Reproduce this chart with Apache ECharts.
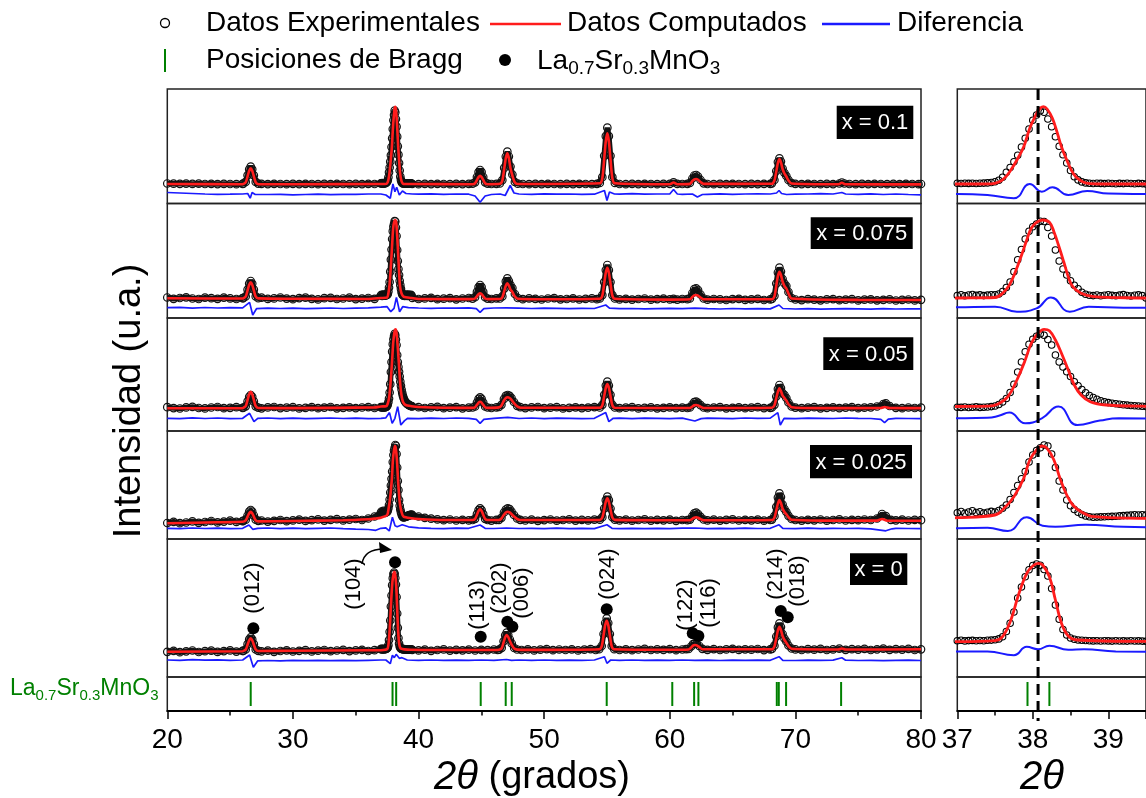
<!DOCTYPE html>
<html><head><meta charset="utf-8">
<script src="https://cdn.jsdelivr.net/npm/echarts@6.0.0/dist/echarts.min.js"></script>
<style>html,body{margin:0;padding:0;background:#fff}#c{width:1146px;height:798px}</style>
</head><body><div id="c"></div><script>
// ---------------- DATA (2θ in degrees, intensity in arbitrary counts) ----------------
const samples = ['x = 0.1', 'x = 0.075', 'x = 0.05', 'x = 0.025', 'x = 0'];
const zoomStart = 37.0, zoomStep = 0.05;   // grid of the detailed observed points around (104)

const obsMain01 = [[20,200],[20.5,198],[21,197],[21.5,199],[22,196],[22.5,198],[23,195],[23.5,197],[24,194],[24.5,196],[25,195],[25.5,193],[26,196],[26.04,199],[26.24,216],[26.39,282],[26.52,342],[26.64,368],[26.76,342],[26.89,282],[27.04,216],[27.24,199],[27.5,196],[28,194],[28.5,197],[29,195],[29.5,193],[30,196],[30.5,194],[31,197],[31.5,195],[32,193],[32.5,196],[33,194],[33.5,197],[34,195],[34.5,193],[35,196],[35.5,194],[36,197],[36.5,195],[39.5,195],[40,193],[40.5,196],[41,194],[41.5,197],[42,195],[42.5,193],[43,196],[43.5,194],[44,196],[44.3,198],[44.5,212],[44.65,265],[44.78,314],[44.9,335],[45.02,314],[45.15,265],[45.3,212],[45.5,198],[45.8,195],[46.2,196],[46.47,201],[46.67,234],[46.82,356],[46.95,470],[47.07,518],[47.19,470],[47.32,370],[47.47,290],[47.67,215],[47.9,198],[48.3,195],[48.8,193],[49.3,196],[49.8,194],[50.3,197],[50.8,195],[51.3,193],[51.8,196],[52.3,194],[52.8,197],[53.3,195],[53.8,193],[54.2,196],[54.43,206],[54.63,263],[54.78,477],[54.91,673],[55.03,758],[55.15,673],[55.28,477],[55.43,263],[55.63,206],[56,195],[56.5,193],[57,196],[57.5,194],[58,197],[58.5,195],[59,193],[59.5,196],[60,197],[60.3,212],[60.6,196],[61,195],[61.4,197],[61.6,205],[61.8,250],[61.95,280],[62.1,285],[62.25,270],[62.45,235],[62.7,202],[63,195],[63.5,193],[64,196],[64.5,194],[65,197],[65.5,195],[66,193],[66.5,196],[67,194],[67.5,197],[68,197],[68.13,202],[68.33,235],[68.48,325],[68.61,415],[68.73,452],[68.85,420],[68.98,350],[69.13,305],[69.28,275],[69.45,235],[69.7,205],[70,196],[70.5,194],[71,197],[71.5,195],[72,193],[72.5,196],[73,194],[73.5,200],[73.7,210],[73.9,200],[74.3,195],[74.8,193],[75.3,196],[75.8,194],[76.3,197],[76.8,195],[77.3,193],[77.8,196],[78.3,194],[78.8,197],[79.3,195],[79.8,193],[80,195]];
const obsZoom01 = [202,200,203,201,202,200,203,204,206,210,218,232,262,312,360,418,482,565,652,745,832,885,928,912,845,768,668,572,488,405,330,268,236,216,206,202,200,203,201,199,202,200,198,201,199,202,200,198,201,199];
const calc01 = [[20,195],[26,193],[26.04,194],[26.24,211],[26.39,272],[26.52,328],[26.64,352],[26.76,328],[26.89,272],[27.04,211],[27.24,194],[30,193],[37,195],[37.45,197],[37.55,215],[37.62,250],[37.69,312],[37.79,435],[37.88,568],[37.96,752],[38.03,868],[38.09,945],[38.14,968],[38.19,945],[38.26,852],[38.32,718],[38.38,568],[38.45,435],[38.51,335],[38.57,268],[38.66,218],[38.76,198],[38.9,195],[39.45,195],[44.3,193],[44.5,202],[44.65,235],[44.78,265],[44.9,278],[45.02,265],[45.15,235],[45.3,202],[45.5,193],[46.47,197],[46.67,229],[46.82,347],[46.95,455],[47.07,502],[47.19,455],[47.32,352],[47.47,280],[47.67,210],[47.9,195],[54.43,202],[54.63,253],[54.78,447],[54.91,625],[55.03,702],[55.15,625],[55.28,447],[55.43,253],[55.63,202],[60,192],[60.3,210],[60.6,192],[61.6,196],[61.8,225],[61.95,242],[62.1,245],[62.25,238],[62.45,215],[62.7,196],[68.13,197],[68.33,230],[68.48,318],[68.61,408],[68.73,445],[68.85,412],[68.98,345],[69.13,300],[69.28,270],[69.45,230],[69.7,200],[73.4,192],[73.7,207],[74,192],[80,191]];
const diff01 = [[20,15],[21,10],[22,5],[23,0],[24,-3],[25,-2],[26,0],[26.4,5],[26.6,-42],[26.75,15],[27,-5],[28,-5],[29,-3],[30,-8],[31,-5],[32,-2],[33,-6],[34,-4],[35,-3],[36,0],[37,0],[37.4,-10],[37.75,-43],[37.96,100],[38.12,23],[38.26,67],[38.47,-10],[38.72,30],[39,5],[39.5,0],[40,-2],[41,2],[42,-3],[43,0],[44,-2],[44.5,-20],[44.9,-82],[45.3,-20],[45.8,-5],[46.5,0],[46.9,-15],[47.3,85],[47.6,10],[48,0],[49,-3],[50,2],[51,-2],[52,0],[53,-4],[54,-2],[54.8,35],[55,-65],[55.2,20],[55.6,0],[56,-2],[57,3],[58,-2],[59,0],[60,0],[60.3,45],[60.6,0],[61,-3],[61.8,0],[62.2,-30],[62.6,-5],[63,-3],[64,2],[65,-3],[66,0],[67,2],[68,0],[68.5,10],[68.7,35],[68.9,5],[69.3,-5],[70,-2],[71,0],[72,3],[73,0],[73.7,15],[74,0],[75,-3],[76,2],[77,-5],[78,0],[79,-5],[80,-8]];

const obsMain02 = [[20,205],[20.5,192],[21,200],[21.5,207],[22,195],[22.5,190],[23,203],[23.5,198],[24,192],[24.5,204],[25,196],[25.5,190],[26,198],[26.04,198],[26.24,216],[26.39,283],[26.52,344],[26.64,370],[26.76,344],[26.89,283],[27.04,216],[27.24,198],[27.5,203],[28,191],[28.5,196],[29,205],[29.5,194],[30,188],[30.5,199],[31,203],[31.5,192],[32,186],[32.5,198],[33,201],[33.5,190],[34,195],[34.5,203],[35,189],[35.5,194],[36,200],[36.5,192],[39.5,201],[40,190],[40.5,196],[41,202],[41.5,188],[42,193],[42.5,199],[43,187],[43.5,195],[44,200],[44.3,194],[44.5,208],[44.65,261],[44.78,309],[44.9,330],[45.02,309],[45.15,261],[45.3,208],[45.5,194],[45.8,190],[46.2,197],[46.47,195],[46.67,216],[46.82,294],[46.95,366],[47.07,397],[47.19,370],[47.32,330],[47.47,300],[47.67,240],[47.9,200],[48.3,188],[48.8,196],[49.3,192],[49.8,185],[50.3,195],[50.8,199],[51.3,187],[51.8,190],[52.3,197],[52.8,185],[53.3,191],[53.8,196],[54.2,188],[54.43,195],[54.63,229],[54.78,359],[54.91,479],[55.03,530],[55.15,479],[55.28,359],[55.43,229],[55.63,195],[56,186],[56.5,192],[57,184],[57.5,190],[58,195],[58.5,183],[59,189],[59.5,194],[60,186],[60.3,192],[60.6,184],[61,190],[61.4,188],[61.6,196],[61.8,250],[61.95,290],[62.1,297],[62.25,280],[62.45,235],[62.7,195],[63,183],[63.5,190],[64,186],[64.5,180],[65,189],[65.5,192],[66,181],[66.5,187],[67,191],[67.5,180],[68,186],[68.13,190],[68.33,222],[68.48,344],[68.61,455],[68.73,503],[68.85,465],[68.98,390],[69.13,345],[69.28,320],[69.45,260],[69.7,200],[70,185],[70.5,179],[71,188],[71.5,184],[72,177],[72.5,186],[73,189],[73.5,178],[74,184],[74.5,188],[75,176],[75.5,183],[76,187],[76.5,177],[77,182],[77.5,186],[78,175],[78.5,181],[79,185],[79.5,176],[80,182]];
const obsZoom02 = [225,232,222,230,235,226,231,224,229,233,232,240,265,305,360,463,583,685,790,868,913,940,968,965,905,820,680,570,490,430,372,328,292,258,238,228,224,230,222,228,233,226,222,229,234,225,220,227,231,224];
const calc02 = [[20,197],[26,195],[26.04,196],[26.24,214],[26.39,276],[26.52,333],[26.64,357],[26.76,333],[26.89,276],[27.04,214],[27.24,196],[30,193],[36,190],[37,200],[37.5,205],[37.6,247],[37.69,330],[37.77,463],[37.86,647],[37.92,780],[37.98,897],[38.05,957],[38.13,980],[38.22,957],[38.28,863],[38.34,730],[38.41,563],[38.47,413],[38.53,313],[38.64,247],[38.81,213],[39.45,200],[40,190],[44.3,189],[44.5,195],[44.65,218],[44.78,238],[44.9,247],[45.02,238],[45.15,218],[45.3,195],[45.5,189],[46.47,190],[46.67,207],[46.82,268],[46.95,323],[47.07,347],[47.19,325],[47.32,285],[47.47,260],[47.67,215],[47.9,192],[50,187],[54.43,192],[54.63,224],[54.78,345],[54.91,456],[55.03,503],[55.15,456],[55.28,345],[55.43,224],[55.63,192],[60,184],[61.6,187],[61.8,210],[61.95,226],[62.1,230],[62.25,224],[62.45,205],[62.7,187],[68.13,188],[68.33,216],[68.48,323],[68.61,421],[68.73,463],[68.85,430],[68.98,365],[69.13,320],[69.28,295],[69.45,245],[69.7,195],[75,181],[80,180]];
const diff02 = [[20,0],[21,3],[22,-4],[23,2],[24,-3],[25,1],[26,-2],[26.55,53],[26.8,-73],[27.1,-10],[28,-5],[29,-8],[30,-4],[31,-10],[32,-6],[33,-3],[34,-8],[35,-5],[36,-2],[37,5],[37.5,10],[37.79,-40],[38.05,-7],[38.24,103],[38.49,-40],[38.74,10],[39.2,0],[40,-3],[41,-6],[42,-3],[43,-5],[44,-2],[44.6,-10],[44.9,-47],[45.2,-10],[46,-3],[47,-2],[48,-5],[49,-8],[50,-4],[51,-7],[52,-10],[53,-6],[54,-8],[54.9,27],[55.2,-5],[56,-10],[57,-8],[58,-12],[59,-9],[60,-6],[61,-9],[62,-4],[63,-10],[64,-13],[65,-8],[66,-11],[67,-9],[68,-12],[68.7,27],[69,-8],[70,-13],[71,-10],[72,-14],[73,-11],[74,-9],[75,-12],[76,-15],[77,-10],[78,-13],[79,-11],[80,-12]];

const obsMain03 = [[20,238],[20.5,229],[21,225],[21.5,236],[22,241],[22.5,230],[23,226],[23.5,235],[24,240],[24.5,228],[25,232],[25.5,238],[26,230],[26.04,234],[26.24,247],[26.39,296],[26.52,341],[26.64,360],[26.76,341],[26.89,296],[27.04,247],[27.24,234],[27.5,227],[28,236],[28.5,240],[29,229],[29.5,233],[30,238],[30.5,226],[31,231],[31.5,239],[32,228],[32.5,234],[33,240],[33.5,227],[34,232],[34.5,237],[35,229],[35.5,235],[36,239],[36.5,230],[39.5,245],[40,238],[40.5,230],[41,236],[41.5,241],[42,228],[42.5,234],[43,239],[43.5,227],[44,233],[44.3,235],[44.5,245],[44.65,285],[44.78,321],[44.9,337],[45.02,321],[45.15,285],[45.3,245],[45.5,235],[45.8,230],[46.2,236],[46.4,240],[46.6,262],[46.8,320],[46.95,352],[47.1,360],[47.25,352],[47.4,330],[47.6,290],[47.85,252],[48.1,238],[48.5,229],[49,236],[49.5,240],[50,228],[50.5,233],[51,238],[51.5,226],[52,231],[52.5,237],[53,229],[53.5,234],[54,239],[54.43,235],[54.63,262],[54.78,362],[54.91,454],[55.03,493],[55.15,454],[55.28,362],[55.43,262],[55.63,235],[56,228],[56.5,233],[57,238],[57.5,226],[58,231],[58.5,236],[59,227],[59.5,232],[60,237],[60.5,229],[61,234],[61.4,230],[61.6,236],[61.8,265],[61.95,288],[62.1,293],[62.25,282],[62.45,258],[62.7,235],[63,228],[63.5,233],[64,238],[64.5,227],[65,232],[65.5,237],[66,228],[66.5,233],[67,238],[67.5,229],[68,232],[68.13,236],[68.33,262],[68.48,345],[68.61,420],[68.73,460],[68.85,430],[68.98,380],[69.13,360],[69.28,330],[69.45,285],[69.7,245],[70,234],[70.5,228],[71,233],[71.5,238],[72,227],[72.5,232],[73,237],[73.5,229],[74,234],[74.5,239],[75,228],[75.5,233],[76,237],[76.5,245],[77,270],[77.2,277],[77.5,250],[78,232],[78.5,228],[79,235],[79.5,230],[80,233]];
const obsZoom03 = [238,236,240,235,237,241,236,238,240,244,250,265,290,325,385,468,590,690,793,868,917,948,972,958,915,860,760,690,640,592,545,493,452,415,382,355,335,317,302,292,284,278,272,267,263,259,255,252,250,248];
const calc03 = [[20,227],[26,228],[26.04,230],[26.24,248],[26.39,311],[26.52,368],[26.64,393],[26.76,368],[26.89,311],[27.04,248],[27.24,230],[30,229],[36.5,236],[37,245],[37.41,248],[37.54,270],[37.67,343],[37.79,510],[37.9,710],[37.98,877],[38.07,977],[38.15,1017],[38.22,1003],[38.3,910],[38.38,777],[38.47,610],[38.55,460],[38.64,360],[38.76,293],[38.97,260],[39.45,248],[40,240],[42,232],[44.3,231],[44.5,237],[44.65,262],[44.78,284],[44.9,293],[45.02,284],[45.15,262],[45.3,237],[45.5,231],[46.4,236],[46.6,255],[46.8,305],[46.95,330],[47.1,337],[47.25,330],[47.4,312],[47.6,278],[47.85,246],[48.1,234],[54.43,233],[54.63,258],[54.78,349],[54.91,434],[55.03,470],[55.15,434],[55.28,349],[55.43,258],[55.63,233],[61.6,230],[61.8,245],[61.95,257],[62.1,260],[62.25,255],[62.45,242],[62.7,230],[68.13,233],[68.33,257],[68.48,330],[68.61,393],[68.73,427],[68.85,400],[68.98,355],[69.13,330],[69.28,305],[69.45,268],[69.7,238],[72,229],[76.8,230],[77.1,240],[77.5,230],[80,229]];
const diff03 = [[20,0],[21,-3],[22,4],[23,-2],[24,3],[25,-4],[26,0],[26.55,50],[26.9,-33],[27.2,0],[28,3],[29,-3],[30,2],[31,-4],[32,0],[33,3],[34,-2],[35,2],[36,-3],[37,0],[37.4,5],[37.55,25],[37.69,57],[37.9,-50],[38.12,0],[38.34,117],[38.59,-67],[38.89,-23],[39.14,0],[40,-3],[41,2],[42,-2],[43,3],[44,0],[44.6,-10],[44.9,-50],[45.2,-10],[46,0],[47.1,10],[48,-2],[49,3],[50,-3],[51,2],[52,0],[53,-4],[54,0],[54.9,57],[55.15,-33],[55.5,0],[56,2],[57,-3],[58,2],[59,0],[60,-3],[61,2],[62,-27],[62.5,-3],[63,2],[64,0],[65,-3],[66,3],[67,0],[68,2],[68.6,57],[68.8,-67],[69.1,0],[70,-3],[71,2],[72,0],[73,-2],[74,3],[75,0],[76,-2],[76.8,-10],[77.1,-43],[77.4,-8],[78,0],[79,-2],[80,-3]];

const obsMain04 = [[20,160],[20.5,172],[21,158],[21.5,165],[22,176],[22.5,162],[23,170],[23.5,180],[24,166],[24.5,174],[25,184],[25.5,171],[26,178],[26.04,182],[26.24,193],[26.39,235],[26.52,274],[26.64,290],[26.76,274],[26.89,235],[27.04,193],[27.24,182],[27.5,185],[28,174],[28.5,182],[29,190],[29.5,178],[30,186],[30.5,194],[31,181],[31.5,188],[32,196],[32.5,184],[33,191],[33.5,198],[34,186],[34.5,194],[35,200],[35.5,190],[36,205],[36.5,225],[39.5,240],[40,225],[40.5,212],[41,203],[41.5,196],[42,188],[42.5,195],[43,185],[43.5,192],[44,186],[44.3,190],[44.5,202],[44.65,248],[44.78,289],[44.9,307],[45.02,289],[45.15,248],[45.3,202],[45.5,190],[45.8,184],[46.2,191],[46.4,192],[46.6,212],[46.8,265],[46.95,295],[47.1,307],[47.25,298],[47.4,275],[47.6,240],[47.85,205],[48.1,192],[48.5,185],[49,193],[49.5,182],[50,189],[50.5,195],[51,183],[51.5,190],[52,196],[52.5,184],[53,191],[53.5,186],[54,193],[54.43,193],[54.63,218],[54.78,305],[54.91,388],[55.03,423],[55.15,388],[55.28,305],[55.43,218],[55.63,193],[56,186],[56.5,194],[57,183],[57.5,190],[58,196],[58.5,184],[59,191],[59.5,187],[60,194],[60.5,182],[61,190],[61.4,188],[61.6,194],[61.8,228],[61.95,256],[62.1,263],[62.25,250],[62.45,222],[62.7,195],[63,186],[63.5,193],[64,184],[64.5,191],[65,196],[65.5,185],[66,192],[66.5,187],[67,194],[67.5,183],[68,190],[68.13,194],[68.33,228],[68.48,322],[68.61,414],[68.73,457],[68.85,420],[68.98,345],[69.13,300],[69.28,270],[69.45,232],[69.7,200],[70,190],[70.5,184],[71,192],[71.5,187],[72,195],[72.5,183],[73,190],[73.5,196],[74,185],[74.5,192],[75,188],[75.5,195],[76,190],[76.5,205],[76.9,250],[77.2,228],[77.6,192],[78,187],[78.5,194],[79,185],[79.5,191],[80,188]];
const obsZoom04 = [262,275,258,270,282,265,272,260,268,276,270,285,307,340,395,465,535,602,675,770,840,885,912,940,930,850,715,580,490,390,332,295,268,245,230,222,217,219,221,222,225,226,228,231,234,236,239,242,240,243];
const calc04 = [[20,157],[24,167],[26,172],[26.04,176],[26.24,186],[26.39,224],[26.52,258],[26.64,273],[26.76,258],[26.89,224],[27.04,186],[27.24,176],[30,180],[34,188],[36,198],[36.5,204],[37,213],[37.5,240],[37.62,307],[37.75,423],[37.88,607],[37.96,790],[38.05,890],[38.12,930],[38.19,907],[38.28,790],[38.36,607],[38.45,440],[38.53,340],[38.64,273],[38.81,223],[39.45,207],[40,200],[42,190],[44.3,190],[44.5,201],[44.65,243],[44.78,281],[44.9,297],[45.02,281],[45.15,243],[45.3,201],[45.5,190],[46.4,190],[46.6,205],[46.8,243],[46.95,265],[47.1,273],[47.25,266],[47.4,250],[47.6,225],[47.85,200],[48.1,190],[54.43,191],[54.63,215],[54.78,296],[54.91,374],[55.03,407],[55.15,374],[55.28,296],[55.43,215],[55.63,191],[61.6,187],[61.8,202],[61.95,214],[62.1,217],[62.25,212],[62.45,199],[62.7,187],[68.13,190],[68.33,213],[68.48,285],[68.61,355],[68.73,390],[68.85,360],[68.98,305],[69.13,270],[69.28,248],[69.45,218],[69.7,192],[72,184],[76.5,184],[76.9,200],[77.3,184],[80,183]];
const diff04 = [[20,0],[21,-3],[22,3],[23,-2],[24,2],[25,-4],[26,0],[26.5,33],[26.8,-10],[27.2,0],[28,3],[29,-3],[30,2],[31,-4],[32,0],[33,3],[34,-3],[35,-8],[36,-12],[36.6,-20],[37,0],[37.4,5],[37.67,-27],[37.92,110],[38.13,25],[38.3,15],[38.7,35],[39.2,15],[40,5],[41,0],[42,-3],[43,2],[44,0],[44.9,33],[45.3,0],[46,-2],[47,3],[48,-2],[49,0],[50,-3],[51,2],[52,-4],[53,0],[54,-3],[55,35],[55.4,0],[56,-3],[57,0],[58,-4],[59,0],[60,-3],[61,2],[62,3],[63,-3],[64,0],[65,-4],[66,2],[67,-2],[68,0],[68.7,35],[69,0],[70,-3],[71,2],[72,-3],[73,0],[74,-2],[75,0],[76,-5],[77.2,-25],[77.7,-5],[78,0],[79,-2],[80,-3]];

const obsMain05 = [[20,252],[20.5,262],[21,248],[21.5,257],[22,265],[22.5,250],[23,258],[23.5,263],[24,251],[24.5,259],[25,266],[25.5,254],[26,261],[26.04,261],[26.24,275],[26.39,328],[26.52,376],[26.64,397],[26.76,376],[26.89,328],[27.04,275],[27.24,261],[27.5,256],[28,264],[28.5,252],[29,260],[29.5,267],[30,255],[30.5,262],[31,268],[31.5,256],[32,263],[32.5,270],[33,258],[33.5,265],[34,271],[34.5,259],[35,266],[35.5,272],[36,260],[36.5,268],[39.5,272],[40,266],[40.5,274],[41,262],[41.5,270],[42,276],[42.5,264],[43,271],[43.5,267],[44,274],[44.5,265],[45,272],[45.5,268],[46,275],[46.3,270],[46.42,274],[46.62,292],[46.77,357],[46.9,417],[47.02,443],[47.14,420],[47.27,375],[47.42,335],[47.62,290],[47.85,275],[48.2,270],[48.7,277],[49.2,266],[49.7,273],[50.2,279],[50.7,268],[51.2,275],[51.7,270],[52.2,277],[52.7,266],[53.2,273],[53.7,279],[54.1,270],[54.38,278],[54.58,310],[54.73,430],[54.86,540],[54.98,587],[55.1,540],[55.23,430],[55.38,310],[55.58,278],[56,270],[56.5,277],[57,268],[57.5,275],[58,281],[58.5,270],[59,276],[59.5,272],[60,279],[60.5,268],[61,275],[61.3,278],[61.5,280],[61.7,305],[61.85,328],[62,337],[62.15,332],[62.35,310],[62.6,282],[63,272],[63.5,279],[64,270],[64.5,276],[65,282],[65.5,271],[66,277],[66.5,273],[67,280],[67.5,269],[68,276],[68.13,281],[68.33,313],[68.48,405],[68.61,496],[68.73,537],[68.85,500],[68.98,430],[69.13,385],[69.28,355],[69.45,315],[69.7,285],[70,276],[70.5,270],[71,278],[71.5,273],[72,281],[72.5,270],[73,276],[73.5,283],[74,272],[74.5,278],[75,274],[75.5,281],[76,270],[76.5,277],[77,283],[77.5,272],[78,278],[78.5,274],[79,281],[79.5,270],[80,277]];
const obsZoom05 = [278,282,276,279,281,277,280,278,282,284,288,296,318,370,452,565,705,815,918,988,1030,1045,1032,990,925,800,635,492,390,335,305,292,285,282,280,278,276,278,275,277,276,274,277,275,276,274,277,275,276,274];
const calc05 = [[20,253],[26,258],[26.04,260],[26.24,274],[26.39,323],[26.52,368],[26.64,387],[26.76,368],[26.89,323],[27.04,274],[27.24,260],[30,262],[36,267],[37,268],[37.5,278],[37.6,318],[37.71,485],[37.81,735],[37.92,952],[38,1025],[38.07,1052],[38.13,1035],[38.22,918],[38.3,685],[38.38,452],[38.47,325],[38.59,285],[39.39,272],[42,270],[46,270],[46.42,273],[46.62,288],[46.77,345],[46.9,398],[47.02,420],[47.14,400],[47.27,360],[47.42,322],[47.62,285],[47.85,274],[50,271],[54.38,277],[54.58,306],[54.73,417],[54.86,519],[54.98,563],[55.1,519],[55.23,417],[55.38,306],[55.58,277],[60,272],[61.5,275],[61.7,295],[61.85,313],[62,320],[62.15,316],[62.35,299],[62.6,277],[68.13,278],[68.33,306],[68.48,388],[68.61,467],[68.73,503],[68.85,470],[68.98,410],[69.13,370],[69.28,342],[69.45,308],[69.7,282],[73.4,275],[73.7,285],[74,275],[80,277]];
const diff05 = [[20,0],[21,-3],[22,3],[23,-2],[24,2],[25,-4],[26,0],[26.55,50],[26.85,-73],[27.2,-8],[28,-5],[29,-8],[30,-4],[31,-7],[32,-3],[33,-6],[34,-4],[35,-7],[36,-3],[37,0],[37.4,0],[37.75,-37],[37.92,47],[38.07,23],[38.22,57],[38.47,17],[38.68,23],[39.1,0],[40,-3],[41,0],[42,-4],[43,-1],[44,-3],[45,0],[46,-4],[47,5],[47.4,-3],[48,0],[49,-3],[50,0],[51,-4],[52,-1],[53,-3],[54,0],[54.8,33],[55,-33],[55.3,0],[56,-3],[57,0],[58,-4],[59,-1],[60,-3],[61,0],[62,-4],[63,-2],[64,-5],[65,-2],[66,-4],[67,-1],[68,-3],[68.7,33],[69,-3],[70,-5],[71,-2],[72,-4],[73,-1],[73.7,23],[74,-2],[75,-5],[76,-3],[77,-6],[78,-4],[79,-2],[80,-5]];

const braggPositions = [26.64, 37.93, 38.22, 44.95, 46.94, 47.42, 54.98, 60.2, 61.94, 62.28, 68.52, 68.68, 69.26, 73.64];
const hklLabels = ['(012)', '(104)', '(113)', '(202)', '(006)', '(024)', '(122)', '(116)', '(214)', '(018)'];
const hklMarks = [[26.85,487],[38.13,1147],[44.95,403],[47.07,553],[47.47,503],[54.98,677],[61.83,437],[62.28,410],[68.84,660],[69.39,597]];
const refPeak = 38.07;  // dashed reference line (x = 0 peak)
const xTicksMain = [20, 80, 10];
const xTicksZoom = [37, 39.5, 1];

// ---------------- LAYOUT / STYLE ----------------
const FONT = 'Liberation Sans, Arial, Helvetica, sans-serif';
const rowsY = [[89,203.5],[203.5,318],[318,431],[431,539],[539,677]];
const braggY = [677, 711];
const mainX = [167.3, 921];
const zoomX = [957.3, 1154.8];
const countsPerPx = 10;
const zoomShift = [0, 0, 0, 0, 85];
const diffOffset = [95, 103, 127, 107, 170];
const labelBoxes = [[836.7,105.7,76.6,33.3],[810.7,217.3,102,31.7],[823.3,337.3,90,32.7],[810,445,102,33.3],[850,553.3,57.3,31.7]];
const hklLabelPos = [[253,588],[354,584],[477.5,605],[500,588],[522,593],[607.5,574],[686,605],[709,603],[776,574],[798,581]];

function merge(main, zoomVals) {
  const pts = main.slice();
  zoomVals.forEach((v, i) => pts.push([+(zoomStart + i * zoomStep).toFixed(2), v]));
  return pts.sort((a, b) => a[0] - b[0]);
}
const sortPts = a => a.slice().sort((p, q) => p[0] - q[0]);
const obsSets = [merge(obsMain01, obsZoom01), merge(obsMain02, obsZoom02), merge(obsMain03, obsZoom03), merge(obsMain04, obsZoom04), merge(obsMain05, obsZoom05)];
const calcSets = [calc01, calc02, calc03, calc04, calc05].map(sortPts);
const diffSets = [diff01, diff02, diff03, diff04, diff05].map(sortPts);

const grids = [], xAxes = [], yAxes = [], series = [];
const gridBase = {show: true, borderColor: '#222', borderWidth: 1.5, backgroundColor: 'rgba(0,0,0,0)', containLabel: false};
const hiddenX = (gi, r) => ({gridIndex: gi, type: 'value', min: r[0], max: r[1], show: false});
const openCircle = {color: 'rgba(255,255,255,0)', borderColor: '#111', borderWidth: 1.2, opacity: 1};

rowsY.forEach(([t, b], i) => {
  const h = b - t;
  grids.push(Object.assign({left: mainX[0], top: t, width: mainX[1] - mainX[0], height: h}, gridBase));
  grids.push(Object.assign({left: zoomX[0], top: t, width: zoomX[1] - zoomX[0], height: h}, gridBase));
  xAxes.push(hiddenX(2 * i, xTicksMain));
  xAxes.push(hiddenX(2 * i + 1, xTicksZoom));
  yAxes.push({gridIndex: 2 * i, type: 'value', min: 0, max: h * countsPerPx, show: false});
  yAxes.push({gridIndex: 2 * i + 1, type: 'value', min: -zoomShift[i], max: h * countsPerPx - zoomShift[i], show: false});
  const diffData = diffSets[i].map(([x, v]) => [x, v + diffOffset[i]]);
  // main panel
  series.push({type: 'line', name: 'obs' + i, xAxisIndex: 2 * i, yAxisIndex: 2 * i, data: obsSets[i], symbol: 'circle', symbolSize: 7.5,
    itemStyle: openCircle, lineStyle: {color: '#141414', width: 5.5}, z: 2, silent: true, animation: false});
  series.push({type: 'line', name: 'calc' + i, xAxisIndex: 2 * i, yAxisIndex: 2 * i, data: calcSets[i], smooth: 0.25, showSymbol: false,
    lineStyle: {color: '#ff1c1c', width: 2.6}, z: 3, silent: true, animation: false});
  series.push({type: 'line', name: 'diff' + i, xAxisIndex: 2 * i, yAxisIndex: 2 * i, data: diffData, showSymbol: false,
    lineStyle: {color: '#1a1aff', width: 1.7}, z: 3, silent: true, animation: false});
  // zoom panel
  series.push({type: 'scatter', name: 'obsZ' + i, xAxisIndex: 2 * i + 1, yAxisIndex: 2 * i + 1, data: obsSets[i], symbol: 'circle', symbolSize: 6.5,
    itemStyle: {color: 'rgba(255,255,255,0)', borderColor: '#000', borderWidth: 1.1, opacity: 1}, clip: true, z: 2, silent: true, animation: false});
  series.push({type: 'line', name: 'calcZ' + i, xAxisIndex: 2 * i + 1, yAxisIndex: 2 * i + 1, data: calcSets[i], smooth: 0.4, showSymbol: false,
    lineStyle: {color: '#ff1c1c', width: 2.8}, z: 3, silent: true, animation: false});
  series.push({type: 'line', name: 'diffZ' + i, xAxisIndex: 2 * i + 1, yAxisIndex: 2 * i + 1, data: diffData, smooth: 0.5, showSymbol: false,
    lineStyle: {color: '#1a1aff', width: 2}, z: 3, silent: true, animation: false});
});

// Bragg panels
const bh = braggY[1] - braggY[0];
grids.push(Object.assign({left: mainX[0], top: braggY[0], width: mainX[1] - mainX[0], height: bh}, gridBase));
grids.push(Object.assign({left: zoomX[0], top: braggY[0], width: zoomX[1] - zoomX[0], height: bh}, gridBase));
const bottomAxis = (gi, r) => ({
  gridIndex: gi, type: 'value', min: r[0], max: r[1], interval: r[2],
  axisLine: {show: true, onZero: false, lineStyle: {color: '#000', width: 2}},
  axisTick: {show: true, inside: false, length: 8, lineStyle: {color: '#000', width: 1.5}},
  minorTick: {show: true, splitNumber: 2, length: 4.5, lineStyle: {color: '#000', width: 1.5}},
  axisLabel: {fontSize: 28, color: '#000', fontFamily: FONT, margin: 15},
  splitLine: {show: false}, minorSplitLine: {show: false}
});
xAxes.push(bottomAxis(10, xTicksMain));
xAxes.push(bottomAxis(11, xTicksZoom));
yAxes.push({gridIndex: 10, type: 'value', min: 0, max: 1, show: false});
yAxes.push({gridIndex: 11, type: 'value', min: 0, max: 1, show: false});
[10, 11].forEach(gi => series.push({type: 'scatter', xAxisIndex: gi, yAxisIndex: gi, data: braggPositions.map(p => [p, 0.5]),
  symbol: 'rect', symbolSize: [2, 24], itemStyle: {color: '#008000', opacity: 1}, clip: true, silent: true, animation: false, z: 3}));

// Miller-index markers in x = 0 panel
series.push({type: 'scatter', xAxisIndex: 8, yAxisIndex: 8, data: hklMarks, symbol: 'circle', symbolSize: 12,
  itemStyle: {color: '#000', opacity: 1}, z: 5, silent: true, animation: false});

// ---------------- GRAPHICS (texts, legend) ----------------
const g = [];
const txt = (x, y, text, size, extra) => Object.assign({type: 'text', x: x, y: y, z: 50,
  style: Object.assign({text: text, fontSize: size, fontFamily: FONT, fill: '#000', align: 'left', verticalAlign: 'middle'}, extra || {})});
// legend
g.push({type: 'circle', shape: {cx: 165, cy: 23, r: 4.5}, style: {fill: 'none', stroke: '#000', lineWidth: 1.3}, z: 50});
g.push(txt(206, 23, 'Datos Experimentales', 28));
g.push({type: 'line', shape: {x1: 490, y1: 24, x2: 561, y2: 24}, style: {stroke: '#ff1c1c', lineWidth: 2.5}, z: 50});
g.push(txt(567, 23, 'Datos Computados', 28));
g.push({type: 'line', shape: {x1: 822, y1: 24, x2: 890, y2: 24}, style: {stroke: '#1a1aff', lineWidth: 2.5}, z: 50});
g.push(txt(897, 23, 'Diferencia', 28));
g.push({type: 'line', shape: {x1: 165, y1: 49, x2: 165, y2: 72}, style: {stroke: '#008000', lineWidth: 2}, z: 50});
g.push(txt(206, 60, 'Posiciones de Bragg', 28));
g.push({type: 'circle', shape: {cx: 505, cy: 60, r: 6}, style: {fill: '#000'}, z: 50});
const formula = '{m|La}{s|0.7}{m|Sr}{s|0.3}{m|MnO}{s|3}';
g.push(txt(537, 61, formula, 28, {rich: {m: {fontSize: 28, fontFamily: FONT, lineHeight: 34, verticalAlign: 'middle'}, s: {fontSize: 19, fontFamily: FONT, lineHeight: 18, verticalAlign: 'bottom'}}}));
// phase label on the Bragg row
g.push(txt(10, 689, formula, 23, {fill: '#008000', rich: {m: {fontSize: 23, fontFamily: FONT, fill: '#008000', lineHeight: 28, verticalAlign: 'middle'}, s: {fontSize: 15, fontFamily: FONT, fill: '#008000', lineHeight: 15, verticalAlign: 'bottom'}}}));
// axis titles
g.push({type: 'text', x: 130, y: 401, rotation: Math.PI / 2, z: 50, style: {text: 'Intensidad (u.a.)', fontSize: 38, fontFamily: FONT, fill: '#000', align: 'center', verticalAlign: 'middle'}});
g.push(txt(532, 778, '{i|2θ} {n|(grados)}', 38, {align: 'center', rich: {i: {fontSize: 40, fontStyle: 'italic', fontFamily: FONT}, n: {fontSize: 38, fontFamily: FONT}}}));
g.push(txt(1042, 778, '2θ', 40, {align: 'center', fontStyle: 'italic'}));
// sample labels
samples.forEach((s, i) => {
  const [x, y, w, h] = labelBoxes[i];
  g.push({type: 'rect', shape: {x: x, y: y, width: w, height: h}, style: {fill: '#000'}, z: 40});
  g.push(txt(x + w / 2, y + h / 2 + 1, s, 22, {fill: '#fff', align: 'center'}));
});
// hkl labels (rotated)
hklLabels.forEach((l, i) => {
  g.push({type: 'text', x: hklLabelPos[i][0], y: hklLabelPos[i][1], rotation: Math.PI / 2, z: 50,
    style: {text: l, fontSize: 22, fontFamily: FONT, fill: '#000', align: 'center', verticalAlign: 'middle'}});
});
// arrow for (104)
g.push({type: 'bezierCurve', shape: {x1: 362, y1: 564, x2: 384, y2: 549, cpx1: 364, cpy1: 549}, style: {stroke: '#000', lineWidth: 1.5, fill: 'none'}, z: 50});
g.push({type: 'polygon', shape: {points: [[379, 542], [392, 550], [380, 553]]}, style: {fill: '#000'}, z: 50});

const chart = echarts.init(document.getElementById('c'));
chart.setOption({animation: false, backgroundColor: '#fff', grid: grids, xAxis: xAxes, yAxis: yAxes, series: series, graphic: g.map((e, k) => Object.assign({id: 'g' + k}, e))});

// dashed reference line across the zoom panels
const xr = chart.convertToPixel({xAxisIndex: 11}, refPeak);
chart.setOption({graphic: [{id: 'dash', type: 'line', z: 60, shape: {x1: xr, y1: rowsY[0][0], x2: xr, y2: braggY[1] + 10},
  style: {stroke: '#000', lineWidth: 3, lineDash: [11, 6]}}]});
</script></body></html>
